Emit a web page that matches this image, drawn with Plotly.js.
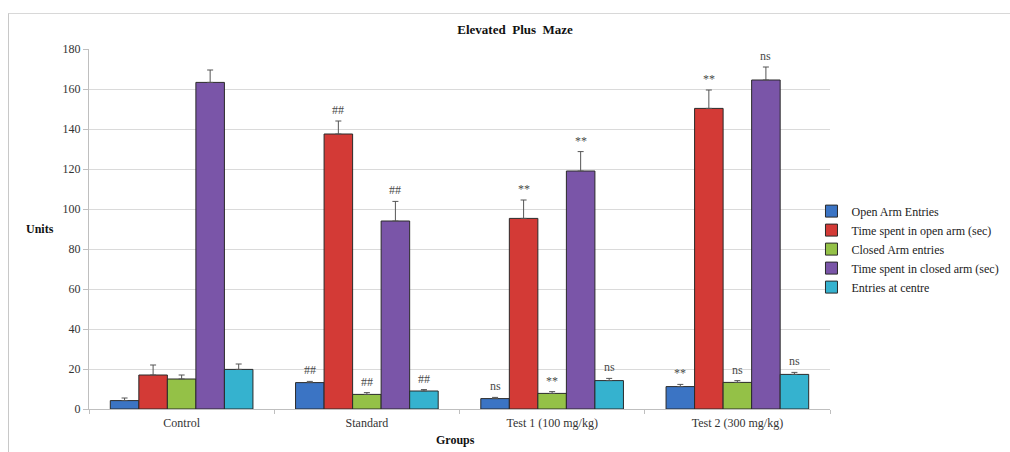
<!DOCTYPE html>
<html>
<head>
<meta charset="utf-8">
<script src="https://cdn.plot.ly/plotly-3.0.1.min.js"></script>
<style>
  html, body { margin: 0; padding: 0; background: #fff; overflow: hidden; }
  #wrap { position: relative; width: 1010px; height: 452px; overflow: hidden; }
  #chart { position: absolute; left: 0; top: 0; width: 1010px; height: 452px; }
  #frame { position: absolute; left: 8px; top: 13px; width: 1020px; height: 460px;
           border-left: 1px solid #c8c8c8; border-top: 1px solid #d8d8d8; pointer-events: none; }
</style>
</head>
<body>
<div id="wrap">
  <div id="chart"></div>
  <div id="frame"></div>
</div>
<script>
// Groups on the x axis
const groups = ['Control', 'Standard', 'Test 1 (100 mg/kg)', 'Test 2 (300 mg/kg)'];

// Measured parameters (one series each)
const seriesNames = ['Open Arm Entries', 'Time spent in open arm (sec)', 'Closed Arm entries',
                     'Time spent in closed arm (sec)', 'Entries at centre'];
const seriesColors = ['#3b74c4', '#d33a36', '#94c147', '#7a55a8', '#35b2cf'];

// Means per group
const openArmEntries   = [4.2, 13.2, 5.2, 11.2];
const timeOpenArm      = [17.0, 137.5, 95.3, 150.3];
const closedArmEntries = [15.0, 7.3, 7.8, 13.3];
const timeClosedArm    = [163.3, 94.0, 119.0, 164.5];
const entriesCentre    = [19.8, 9.0, 14.2, 17.3];

// Standard error (upper bar only)
const errOpenArmEntries   = [1.3, 0.6, 0.6, 1.1];
const errTimeOpenArm      = [5.0, 6.5, 9.2, 9.2];
const errClosedArmEntries = [2.0, 0.9, 0.9, 0.9];
const errTimeClosedArm    = [6.2, 9.8, 9.7, 6.5];
const errEntriesCentre    = [2.7, 0.7, 1.1, 1.0];

// Significance markers above each bar
const sigOpenArmEntries   = ['', '##', 'ns', '**'];
const sigTimeOpenArm      = ['', '##', '**', '**'];
const sigClosedArmEntries = ['', '##', '**', 'ns'];
const sigTimeClosedArm    = ['', '##', '**', 'ns'];
const sigEntriesCentre    = ['', '##', 'ns', 'ns'];

const values = [openArmEntries, timeOpenArm, closedArmEntries, timeClosedArm, entriesCentre];
const errors = [errOpenArmEntries, errTimeOpenArm, errClosedArmEntries, errTimeClosedArm, errEntriesCentre];
const sigs   = [sigOpenArmEntries, sigTimeOpenArm, sigClosedArmEntries, sigTimeClosedArm, sigEntriesCentre];

const serif = 'Liberation Serif, Times New Roman, serif';
const bargap = 0.23;

const traces = seriesNames.map((name, i) => ({
  type: 'bar',
  name: name,
  x: groups,
  y: values[i],
  marker: { color: seriesColors[i], line: { color: '#2a2a2a', width: 1 } },
  error_y: {
    type: 'data', symmetric: false,
    array: errors[i], arrayminus: errors[i].map(() => 0),
    color: '#555', thickness: 1, width: 3
  },
  hoverinfo: 'name+y'
}));

// Significance labels placed over each error bar
const nSeries = seriesNames.length;
const barW = (1 - bargap) / nSeries;
const annotations = [];
for (let i = 0; i < nSeries; i++) {
  for (let g = 0; g < groups.length; g++) {
    if (!sigs[i][g]) continue;
    annotations.push({
      xref: 'x', yref: 'y',
      x: g + (i - (nSeries - 1) / 2) * barW,
      y: values[i][g] + errors[i][g],
      text: sigs[i][g], showarrow: false,
      yanchor: 'bottom', yshift: 2,
      font: { family: serif, size: 12, color: '#4a4a4a' }
    });
  }
}
annotations.push({
  xref: 'paper', yref: 'paper', x: -0.066, y: 0.5, xanchor: 'center', yanchor: 'middle',
  text: '<b>Units</b>', showarrow: false, font: { family: serif, size: 12, color: '#111' }
});
annotations.push({
  xref: 'paper', yref: 'paper', x: 0.494, y: -0.085, xanchor: 'center', yanchor: 'middle',
  text: '<b>Groups</b>', showarrow: false, font: { family: serif, size: 12, color: '#111' }
});

const layout = {
  width: 1010, height: 452,
  margin: { l: 89, r: 180, t: 49, b: 43, autoexpand: false },
  paper_bgcolor: 'rgba(0,0,0,0)', plot_bgcolor: '#fff',
  title: {
    text: '<b>Elevated  Plus  Maze</b>',
    font: { family: serif, size: 13, color: '#111' },
    x: 0.51, xanchor: 'center', y: 0.935, yanchor: 'middle'
  },
  barmode: 'group',
  bargap: bargap,
  bargroupgap: 0,
  xaxis: {
    type: 'category',
    showline: true, linecolor: '#bfbfbf', linewidth: 1,
    ticks: 'outside', tickson: 'boundaries', ticklen: 4, tickcolor: '#bfbfbf',
    ticklabelstandoff: 3,
    tickfont: { family: serif, size: 12, color: '#333' },
    showgrid: false, zeroline: false
  },
  yaxis: {
    range: [0, 180], dtick: 20,
    showline: true, linecolor: '#bfbfbf', linewidth: 1,
    ticks: 'outside', ticklen: 5, tickcolor: '#bfbfbf',
    tickfont: { family: serif, size: 12, color: '#333' },
    gridcolor: '#dadada', gridwidth: 1, zeroline: false
  },
  legend: {
    x: 0.975, xanchor: 'left', y: 0.59, yanchor: 'top',
    font: { family: serif, size: 12, color: '#222' },
    itemwidth: 30, traceorder: 'normal', bgcolor: 'rgba(0,0,0,0)'
  },
  showlegend: true,
  annotations: annotations
};

Plotly.newPlot('chart', traces, layout, { displayModeBar: false, staticPlot: true });
</script>
</body>
</html>
